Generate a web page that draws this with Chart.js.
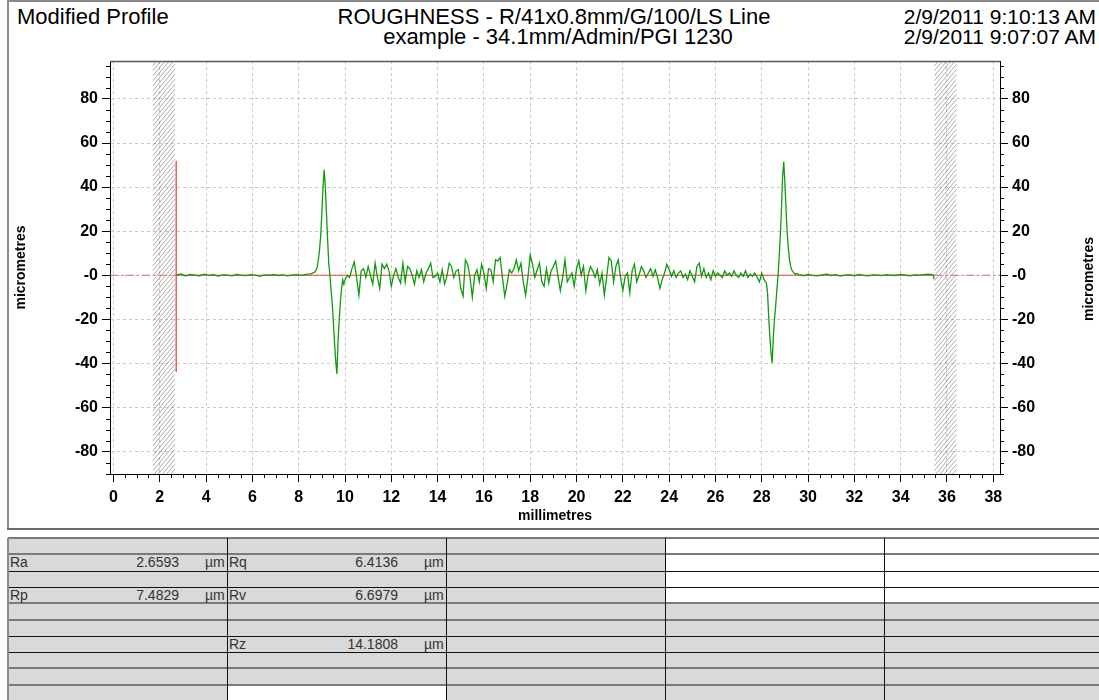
<!DOCTYPE html>
<html><head><meta charset="utf-8">
<script src="https://cdn.jsdelivr.net/npm/chart.js@4.4.0/dist/chart.umd.min.js"></script>
<style>
body{margin:0;background:#fff;font-family:Arial,"Liberation Sans",sans-serif;}
#page{position:relative;width:1099px;height:700px;overflow:hidden;background:#fff;}
.abs{position:absolute;white-space:nowrap;}
.hdr{font-size:21px;line-height:24px;color:#000;}
.cell{position:absolute;}
.txt{position:absolute;font-size:14px;color:#333;white-space:nowrap;}
</style></head><body>
<div id="page">
  <div class="abs" style="left:7px;top:0;width:2px;height:530px;background:#8a8a8a"></div>
  <div class="abs" style="left:7px;top:0;width:1092px;height:2px;background:#8a8a8a"></div>
  <div class="abs" style="left:7px;top:528px;width:1092px;height:2px;background:#6a6a6a"></div>
  <div class="abs hdr" style="left:17px;top:5px;font-size:22px">Modified Profile</div>
  <div class="abs hdr" style="left:254px;width:600px;top:5px;text-align:center;font-size:22px">ROUGHNESS - R/41x0.8mm/G/100/LS Line</div>
  <div class="abs hdr" style="left:258px;width:600px;top:25px;text-align:center;font-size:22px">example - 34.1mm/Admin/PGI 1230</div>
  <div class="abs hdr" style="right:3px;top:5px;text-align:right">2/9/2011 9:10:13 AM</div>
  <div class="abs hdr" style="right:3px;top:25px;text-align:right">2/9/2011 9:07:07 AM</div>
  <div id="chartBox" style="position:absolute;left:0;top:0;width:1099px;height:530px"><canvas id="c"></canvas></div>
  <div class="abs" style="left:1028px;top:271px;width:120px;height:16px;line-height:16px;text-align:center;font-size:14px;font-weight:bold;transform:rotate(-90deg);">micrometres</div>
  <div id="table"></div>
</div>
<script>
// ---------- axis ticks ----------
const X_TICKS = [0,2,4,6,8,10,12,14,16,18,20,22,24,26,28,30,32,34,36,38];
const Y_TICKS = [-80,-60,-40,-20,0,20,40,60,80];
const X_RANGE = [-0.15, 38.29];
const Y_RANGE = [-90.15, 97.2];

// ---------- excluded (hatched) zones, mm ----------
const CUT_LEFT = [1.69, 2.67];
const CUT_RIGHT = [35.45, 36.42];

// ---------- red marker & zero reference line ----------
const MARKER_X = [2.71, 2.71];
const MARKER_Y = [52, -44];
const ZERO_LEFT_X = [-0.15, 2.72];
const ZERO_MID_X = [2.72, 35.45];
const ZERO_RIGHT_X = [35.45, 38.29];

// ---------- measured profile (micrometres), sampled segments ----------
const FLAT1_START = 2.72, FLAT1_STEP = 0.2;
const FLAT1 = [0.2,0.6,-0.3,0.4,0.1,-0.2,0.5,0.0,0.3,-0.4,0.2,0.1,-0.3,0.4,0.0,-0.2,0.3,0.1,-0.5,0.2,0.0,0.4,-0.1,0.2,-0.3,0.1,0.3,0.0,0.4,0.6];
const SPIKE1_START = 8.6, SPIKE1_STEP = 0.05;
const SPIKE1 = [1.0,1.2,1.5,2.3,3.9,7.0,11.5,18,28,40,47.8,40,28,16,5,0,-7,-13,-22,-31,-39,-44.8,-30,-20,-12,-6,-2,-4];
const NOISE_START = 10.0, NOISE_STEP = 0.1;
const NOISE = [
 -2,0,-1,3,6,-1,-9,2,3,-1,
 4,0,-4,5.5,-1,-6,5,3,5,2,
 -5,0,3,-1,-3.5,5.5,-3,4,3,0,
 -4,2,-1,2.5,-3,1,3,5.5,-1,-0.5,
 1,-3,2.5,-4,-0.5,5.5,4,-1,2,2.5,
 -6,-9.5,7,5,-1,-10,0,2.5,-3,5,
 1,-6,3,2.5,-3,7,6.5,8,-1,-9.5,
 -4,2.5,1,3,7,2,5.5,-3,-9,-1,
 9.4,5,-1,2.5,5.5,-3,-5,3,-3.5,2,
 4,6.5,-0.5,-7,-1,7,-3,-1,1,-5,
 3,6.5,0,4,-7,0,4,2,-1,2.5,
 -4,1,-9,-1,8,6.5,-3,4,7,-1,
 -7,-0.5,1,-8,2,5,-3,0,4,2,
 -1,1,3,-0.5,2.5,-1,-6,-2,1,5,
 2.5,-0.5,2,-1,1,2,-1,0.5,-2,2,
 -0.5,-3,4,5.5,-0.5,3,-1,1,-2,2,
 -0.5,1,0,-1,2,0,1,-0.5,2,0,
 -1,1,-0.5,2,-1,0.5,-0.5,1,-1,-3,
 1,-2,-3.5];
const SPIKE2_START = 28.25, SPIKE2_STEP = 0.05;
const SPIKE2 = [-8,-19,-28,-35,-39.8,-28,-20,-14,-7,-0.6,8,17.5,30,44.7,51.5,41.7,30,19,12,7,4,2.4,1.5,0.9,0.5,0.8];
const FLAT2_START = 29.6, FLAT2_STEP = 0.2;
const FLAT2 = [0.3,-0.2,0.4,0.0,-0.3,0.2,0.5,-0.1,0.3,-0.4,0.1,0.2,-0.2,0.4,0.0,-0.3,0.2,0.1,-0.2,0.3,0.0,-0.1,0.4,0.1,-0.3,0.2,0.0,0.3,0.5,0.2];
const END_X = [35.45], END_Y = [-1.8];

// ---------- results table ----------
const STAT_ROWS = [
 ['', '', '', '', '', ''],
 ['Ra', '2.6593', 'µm', 'Rq', '6.4136', 'µm'],
 ['', '', '', '', '', ''],
 ['Rp', '7.4829', 'µm', 'Rv', '6.6979', 'µm'],
 ['', '', '', '', '', ''],
 ['', '', '', '', '', ''],
 ['', '', '', 'Rz', '14.1808', 'µm'],
 ['', '', '', '', '', ''],
 ['', '', '', '', '', ''],
 ['', '', '', '', '', '']
];

function seg(start, step, vals){ return vals.map((y,i)=>({x:+(start+i*step).toFixed(3), y:y})); }
const profile = [].concat(
  seg(FLAT1_START, FLAT1_STEP, FLAT1),
  seg(SPIKE1_START, SPIKE1_STEP, SPIKE1),
  seg(NOISE_START, NOISE_STEP, NOISE),
  seg(SPIKE2_START, SPIKE2_STEP, SPIKE2),
  seg(FLAT2_START, FLAT2_STEP, FLAT2),
  END_X.map((x,i)=>({x:x, y:END_Y[i]}))
);
const pair = (xs, ys) => xs.map((x,i)=>({x:x, y:ys[i]}));

const FONT = 'Arial, "Liberation Sans", sans-serif';
const tickFont = {family: FONT, size: 16, weight: 'bold'};
const titleFont = {family: FONT, size: 14, weight: 'bold'};
const fmt = v => (v === 0 ? '-0' : String(v));

function hatch(ctx, x1, x2, top, bottom){
  ctx.save();
  ctx.beginPath(); ctx.rect(x1, top, x2 - x1, bottom - top); ctx.clip();
  ctx.strokeStyle = 'rgba(115,115,115,0.75)'; ctx.lineWidth = 0.8;
  const w = x2 - x1, rise = w * 1.2;
  ctx.beginPath();
  for (let y = top - rise; y < bottom + rise; y += 5){ ctx.moveTo(x1, y + rise); ctx.lineTo(x2, y); }
  ctx.stroke();
  ctx.restore();
}

const decor = {
  id: 'decor',
  beforeDatasetsDraw(chart){
    const {ctx, chartArea:a, scales:{x}} = chart;
    hatch(ctx, x.getPixelForValue(CUT_LEFT[0]), x.getPixelForValue(CUT_LEFT[1]), a.top, a.bottom);
    hatch(ctx, x.getPixelForValue(CUT_RIGHT[0]), x.getPixelForValue(CUT_RIGHT[1]), a.top, a.bottom);
  },
  afterDraw(chart){
    const {ctx, chartArea:a, scales:{x, y}} = chart;
    ctx.save();
    ctx.strokeStyle = '#5a5a5a'; ctx.lineWidth = 1.5;
    ctx.beginPath(); ctx.moveTo(a.left, a.top + 0.5); ctx.lineTo(a.right, a.top + 0.5); ctx.stroke();
    ctx.strokeStyle = '#000'; ctx.lineWidth = 1;
    ctx.beginPath();
    for (let k = 0; k <= 76; k++){
      const v = k * 0.5;
      if (k % 4 === 0) continue;
      const px = Math.round(x.getPixelForValue(v)) + 0.5;
      ctx.moveTo(px, a.bottom); ctx.lineTo(px, a.bottom + 4);
    }
    for (let k = -18; k <= 19; k++){
      const v = k * 5;
      if (v % 20 === 0 || v < Y_RANGE[0] || v > Y_RANGE[1]) continue;
      const py = Math.round(y.getPixelForValue(v)) + 0.5;
      ctx.moveTo(a.left - 4, py); ctx.lineTo(a.left, py);
      ctx.moveTo(a.right, py); ctx.lineTo(a.right + 4, py);
    }
    ctx.stroke();
    ctx.restore();
  }
};

const gridCfg = {color: '#c8c8c8', tickColor: '#000', tickLength: 8, lineWidth: 1};
const borderCfg = {color: '#000', width: 1, dash: [3,3]};

new Chart(document.getElementById('c'), {
  type: 'line',
  data: {
    datasets: [
      {label: 'profile', data: profile, borderColor: '#109a10', borderWidth: 1.3, pointRadius: 0, tension: 0, order: 0},
      {label: 'zero', data: pair(ZERO_MID_X, [0,0]), borderColor: '#ee4040', borderWidth: 1.2, pointRadius: 0, order: 2},
      {label: 'zeroL', data: pair(ZERO_LEFT_X, [0,0]), borderColor: '#f06060', borderWidth: 1.2, borderDash: [8,3,2,3], pointRadius: 0, order: 2},
      {label: 'zeroR', data: pair(ZERO_RIGHT_X, [0,0]), borderColor: '#f06060', borderWidth: 1.2, borderDash: [8,3,2,3], pointRadius: 0, order: 2},
      {label: 'marker', data: pair(MARKER_X, MARKER_Y), borderColor: '#e86060', borderWidth: 1.5, pointRadius: 0, order: 1}
    ]
  },
  options: {
    responsive: true, maintainAspectRatio: false, animation: false, devicePixelRatio: 1,
    layout: {padding: {top: 61, left: 0, right: 0, bottom: 0}},
    plugins: {legend: {display: false}, tooltip: {enabled: false}},
    scales: {
      x: {type: 'linear', position: 'bottom', min: X_RANGE[0], max: X_RANGE[1],
        afterBuildTicks: s => { s.ticks = X_TICKS.map(v => ({value: v})); },
        afterFit: s => { s.height = 56; },
        ticks: {autoSkip: false, maxRotation: 0, minRotation: 0, font: tickFont, color: '#000', padding: 6, callback: v => String(v)},
        grid: gridCfg, border: borderCfg,
        title: {display: true, text: 'millimetres', font: titleFont, color: '#000', padding: {top: 0, bottom: 5}}
      },
      y: {type: 'linear', position: 'left', min: Y_RANGE[0], max: Y_RANGE[1],
        afterBuildTicks: s => { s.ticks = Y_TICKS.map(v => ({value: v})); },
        afterFit: s => { s.width = 110; },
        ticks: {autoSkip: false, font: tickFont, color: '#000', padding: 4, callback: fmt},
        grid: gridCfg, border: borderCfg,
        title: {display: true, text: 'micrometres', font: titleFont, color: '#000', padding: {top: 13, bottom: 0}}
      },
      y2: {type: 'linear', position: 'right', min: Y_RANGE[0], max: Y_RANGE[1],
        afterBuildTicks: s => { s.ticks = Y_TICKS.map(v => ({value: v})); },
        afterFit: s => { s.width = 99; },
        ticks: {autoSkip: false, font: tickFont, color: '#000', padding: 4, callback: fmt},
        grid: Object.assign({}, gridCfg, {drawOnChartArea: false}), border: borderCfg
      }
    }
  },
  plugins: [decor]
});

// ---------- table ----------
(function(){
  const tb = document.getElementById('table');
  const colEdges = [8, 227, 446, 665, 884, 1099];
  const top0 = 538, rh = 16.3, nRows = 10;
  const add = (css, text, cls) => { const d = document.createElement('div'); d.className = cls || 'cell'; d.style.cssText = css; if (text) d.textContent = text; tb.appendChild(d); };
  for (let r = 0; r < nRows; r++){
    for (let c = 0; c < 5; c++){
      const white = (c >= 3 && r <= 3) || (c === 1 && r === 9);
      add(`left:${colEdges[c]}px;top:${top0 + r*rh}px;width:${colEdges[c+1]-colEdges[c]}px;height:${rh+1}px;background:${white ? '#fff' : '#d9d9d9'}`);
    }
  }
  for (let r = 0; r < nRows; r++){
    const gray = (Math.floor(r / 2) % 2 === 0);
    add(`left:8px;top:${Math.round(top0 + r*rh) - (gray ? 1 : 0)}px;width:1091px;height:${gray ? 2 : 1}px;background:${gray ? '#7a7a7a' : '#111'}`);
  }
  add(`left:7px;top:${top0}px;width:2px;height:${700-top0}px;background:#8a8a8a`);
  for (let c = 1; c < 5; c++) add(`left:${colEdges[c]}px;top:${top0}px;width:1px;height:${700-top0}px;background:#111`);
  STAT_ROWS.forEach((row, r) => {
    const ty = top0 + r*rh;
    [0, 1].forEach(c => {
      const L = row[c*3], V = row[c*3+1], U = row[c*3+2];
      const cl = colEdges[c], cr = colEdges[c+1];
      if (L) add(`left:${cl+2}px;top:${ty}px;line-height:${rh}px`, L, 'txt');
      if (V) add(`right:${1099 - (cr - 48)}px;top:${ty}px;line-height:${rh}px`, V, 'txt');
      if (U) add(`left:${cr - 22}px;top:${ty}px;line-height:${rh}px`, U, 'txt');
    });
  });
})();
</script>
</body></html>
